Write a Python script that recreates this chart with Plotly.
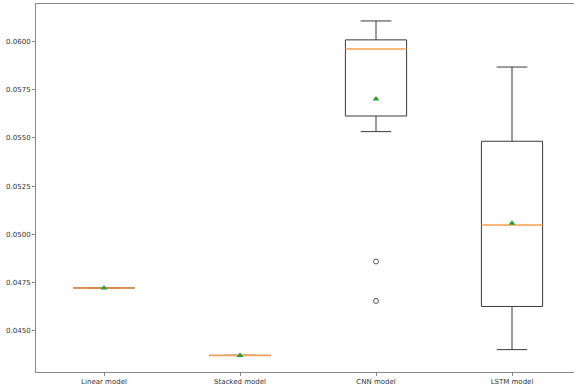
import plotly.graph_objects as go

categories = ["Linear model", "Stacked model", "CNN model", "LSTM model"]
q1 = [0.04722, 0.04372, 0.05614, 0.04626]
median = [0.04722, 0.04372, 0.05961, 0.05048]
q3 = [0.04722, 0.04372, 0.06009, 0.05483]
lower_whisker = [0.04722, 0.04372, 0.05533, 0.04402]
upper_whisker = [0.04722, 0.04372, 0.06107, 0.05868]
means = [0.04722, 0.04372, 0.05702, 0.05057]
outliers = [[], [], [0.04859, 0.04655], []]

y_ticks = [0.045, 0.0475, 0.05, 0.0525, 0.055, 0.0575, 0.06]

BOX_W = 0.45
CAP_W = 0.225
LINE_COLOR = "#3a3a3a"

fig = go.Figure()
positions = list(range(1, len(categories) + 1))

for i, p in enumerate(positions):
    hw = BOX_W / 2
    cw = CAP_W / 2
    fig.add_trace(go.Scatter(
        x=[p - hw, p + hw, p + hw, p - hw, p - hw],
        y=[q1[i], q1[i], q3[i], q3[i], q1[i]],
        mode="lines", line=dict(color=LINE_COLOR, width=1), hoverinfo="skip"))
    fig.add_trace(go.Scatter(
        x=[p, p, None, p, p],
        y=[q1[i], lower_whisker[i], None, q3[i], upper_whisker[i]],
        mode="lines", line=dict(color=LINE_COLOR, width=1), hoverinfo="skip"))
    fig.add_trace(go.Scatter(
        x=[p - cw, p + cw, None, p - cw, p + cw],
        y=[lower_whisker[i], lower_whisker[i], None, upper_whisker[i], upper_whisker[i]],
        mode="lines", line=dict(color=LINE_COLOR, width=1), hoverinfo="skip"))

for i, p in enumerate(positions):
    hw = BOX_W / 2
    fig.add_trace(go.Scatter(
        x=[p - hw, p + hw], y=[median[i], median[i]],
        mode="lines", line=dict(color="#ffa050", width=1.5), hoverinfo="skip"))
    if outliers[i]:
        fig.add_trace(go.Scatter(
            x=[p] * len(outliers[i]), y=outliers[i], mode="markers",
            marker=dict(symbol="circle-open", size=5, color="#555555", line=dict(width=1)),
            hoverinfo="skip"))

fig.add_trace(go.Scatter(
    x=positions, y=means, mode="markers",
    marker=dict(symbol="triangle-up", size=6, color="#2ca02c"), hoverinfo="skip"))

fig.update_layout(
    width=574, height=387,
    margin=dict(l=36, r=0, t=4, b=15),
    paper_bgcolor="white", plot_bgcolor="white",
    showlegend=False,
    font=dict(family="DejaVu Sans", size=7, color="#333333"),
)
fig.update_xaxes(
    range=[0.5, 0.5 + 538 / 136], tickvals=positions, ticktext=categories,
    showgrid=False, zeroline=False, showline=True, linecolor="#888888", linewidth=1,
    mirror=True, ticks="outside", ticklen=3, tickcolor="#888888", automargin=False)
fig.update_yaxes(
    range=[0.04286, 0.06195], tickvals=y_ticks,
    ticktext=[f"{v:.4f}" for v in y_ticks],
    showgrid=False, zeroline=False, showline=True, linecolor="#888888", linewidth=1,
    ticks="outside", ticklen=3, tickcolor="#888888", automargin=False)

fig.write_html(
    "out.html",
    config={"displayModeBar": False},
    post_script="document.body.style.margin='0';document.body.style.overflow='hidden';",
)
